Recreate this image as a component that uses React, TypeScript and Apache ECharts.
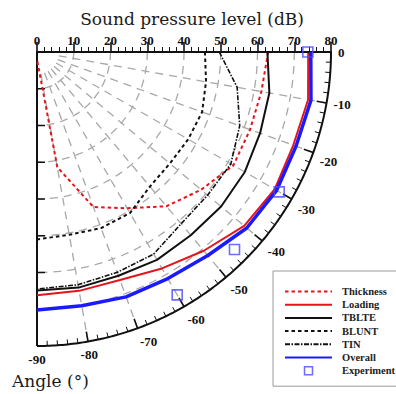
import React, { useEffect, useRef } from 'react';
import * as echarts from 'echarts';

// Angle (degrees) of each computed point
const angles = [0, -10, -20, -30, -40, -50, -60, -70, -80, -90];
// Sound pressure level (dB) of each noise source
const thickness = [62.9, 62.0, 61.7, 61.7, 58.3, 54.8, 49.1, 44.9, 31.8, 2];
const loading = [73.8, 74.9, 74.2, 74.7, 73.6, 70.6, 68.0, 66.0, 66.0, 66.2];
const tblte = [62.7, 64.2, 64.6, 65.3, 65.4, 65.1, 65.3, 64.8, 65.1, 64.9];
const blunt = [45.7, 46.7, 47.8, 47.5, 47.2, 47.8, 50.6, 51.0, 50.5, 51.0];
const tin = [49.6, 55.3, 58.7, 60.9, 60.6, 61.0, 63.5, 63.8, 64.3, 64.5];
const overall = [74.5, 75.7, 75.0, 75.3, 74.5, 72.3, 71.2, 70.9, 70.1, 70.2];
// Experiment
const experimentAngles = [0, -30, -45, -60];
const experiment = [73.7, 76.1, 76.0, 76.3];

// Axis ticks
const radiusMax = 80;
const gridRadii = [10, 20, 30, 40, 50, 60, 70];
const gridAngles = [-10, -20, -30, -40, -50, -60, -70, -80];
const angleMin = -90;

const lineNames = ['Thickness', 'Loading', 'TBLTE', 'BLUNT', 'TIN', 'Overall'];

const LABEL_FONT = 'Liberation Serif';

export default function App() {
  const ref = useRef<HTMLDivElement>(null);
  useEffect(() => {
    const chart = echarts.init(ref.current!, null, { renderer: 'svg' });
    const toData = (angs: number[], vals: number[]) => angs.map((a, i) => [vals[i], -a]);

    const line = (name: string, vals: number[], color: string, width: number, type: any, z: number) => ({
      type: 'line',
      name,
      coordinateSystem: 'polar',
      data: toData(angles, vals),
      symbol: 'none',
      lineStyle: { color, width, type },
      itemStyle: { color },
      z,
      silent: true,
    });

    const renderFurniture = (params: any, api: any) => {
      const children: any[] = [];
      const c0 = api.coord([0, 0]);
      const gray = { stroke: '#a8a8a8', lineWidth: 1.3, lineDash: [8, 6], fill: null };
      const black = { stroke: '#111', lineWidth: 2, fill: null };
      const span = -angleMin;
      gridRadii.forEach((r) => {
        const pts: number[][] = [];
        for (let a = 0; a <= span; a += 1) pts.push(api.coord([r, a]));
        children.push({ type: 'polyline', shape: { points: pts }, style: gray });
      });
      gridAngles.forEach((ang) => {
        const a = -ang;
        const p1 = api.coord([6, a]);
        const p2 = api.coord([radiusMax, a]);
        children.push({ type: 'line', shape: { x1: p1[0], y1: p1[1], x2: p2[0], y2: p2[1] }, style: gray });
      });
      // outer arc
      const arc: number[][] = [];
      for (let a = 0; a <= span; a += 0.5) arc.push(api.coord([radiusMax, a]));
      children.push({ type: 'polyline', shape: { points: arc }, style: black });
      // -90 axis line
      const l1 = api.coord([0, span]);
      const l2 = api.coord([radiusMax, span]);
      children.push({ type: 'line', shape: { x1: l1[0], y1: l1[1], x2: l2[0], y2: l2[1] }, style: black });
      // arc ticks
      for (let a = 0; a <= span; a += 2) {
        const p = api.coord([radiusMax, a]);
        const dx = p[0] - c0[0];
        const dy = p[1] - c0[1];
        const d = Math.sqrt(dx * dx + dy * dy);
        const len = a % 10 === 0 ? 10 : 5;
        children.push({
          type: 'line',
          shape: { x1: p[0], y1: p[1], x2: p[0] - (dx / d) * len, y2: p[1] - (dy / d) * len },
          style: { stroke: '#111', lineWidth: a % 10 === 0 ? 1.6 : 1, fill: null },
        });
      }
      // -90 axis ticks
      gridRadii.forEach((r) => {
        const p = api.coord([r, span]);
        children.push({
          type: 'line',
          shape: { x1: p[0], y1: p[1], x2: p[0] + 8, y2: p[1] },
          style: { stroke: '#111', lineWidth: 1.5, fill: null },
        });
      });
      return { type: 'group', children };
    };

    const legendData: any[] = lineNames.map((n) => ({
      name: n,
      itemStyle: { color: 'rgba(0,0,0,0)', borderColor: 'rgba(0,0,0,0)', borderWidth: 0, opacity: 0 },
    }));
    legendData.push({
      name: 'Experiment',
      icon: 'path://M0,0H10V10H0Z',
      itemStyle: { color: 'rgba(255,255,255,0)', borderColor: '#4747ff', borderWidth: 1.5 },
    });

    const option: any = {
      animation: false,
      backgroundColor: '#fff',
      polar: { center: [37, 52], radius: 294 },
      radiusAxis: {
        type: 'value',
        min: 0,
        max: radiusMax,
        interval: 10,
        axisLine: { show: true, lineStyle: { color: '#111', width: 2 } },
        axisTick: { show: true, inside: true, length: 10, lineStyle: { color: '#111', width: 1.6 } },
        minorTick: { show: true, splitNumber: 5, length: 5, lineStyle: { color: '#111', width: 1 } },
        splitLine: { show: false },
        minorSplitLine: { show: false },
        axisLabel: {
          margin: 5,
          fontFamily: LABEL_FONT,
          fontWeight: 'bold',
          fontSize: 13,
          color: '#111',
        },
        z: 5,
      },
      angleAxis: {
        type: 'value',
        min: 0,
        max: 360,
        interval: 10,
        startAngle: 0,
        clockwise: true,
        axisLine: { show: false },
        axisTick: { show: false },
        splitLine: { show: false },
        axisLabel: {
          margin: 7,
          fontFamily: LABEL_FONT,
          fontWeight: 'bold',
          fontSize: 13,
          color: '#111',
          formatter: (v: number) => (v <= -angleMin ? (v === 0 ? '0' : String(-v)) : ''),
        },
      },
      legend: {
        orient: 'vertical',
        left: 273,
        top: 271,
        itemWidth: 47,
        itemHeight: 8,
        itemGap: 2.2,
        padding: [15, 2, 10, 11],
        borderColor: '#9a9a9a',
        borderWidth: 1,
        backgroundColor: '#fff',
        selectedMode: false,
        textStyle: {
          fontFamily: LABEL_FONT,
          fontWeight: 'bold',
          fontSize: 10.5,
          color: '#222',
          padding: [0, 0, 0, 5],
        },
        data: legendData,
      },
      graphic: [
        {
          type: 'text',
          x: 192,
          y: 19,
          style: {
            text: 'Sound pressure level (dB)',
            fontFamily: 'DejaVu Serif',
            fontSize: 17,
            fill: '#1a1a1a',
            align: 'center',
            verticalAlign: 'middle',
          },
        },
        {
          type: 'text',
          x: 12,
          y: 381,
          style: {
            text: 'Angle (°)',
            fontFamily: 'DejaVu Serif',
            fontSize: 17,
            fill: '#1a1a1a',
            align: 'left',
            verticalAlign: 'middle',
          },
        },
      ],
      series: [
        {
          type: 'custom',
          name: 'furniture',
          coordinateSystem: 'polar',
          data: [[40, 45]],
          renderItem: renderFurniture,
          silent: true,
          z: 1,
        },
        line('Thickness', thickness, '#e4141c', 2, [3.5, 3], 4),
        line('Loading', loading, '#e4141c', 2, 'solid', 4),
        line('TBLTE', tblte, '#111111', 2, 'solid', 4),
        line('BLUNT', blunt, '#111111', 2, [3.5, 3], 4),
        line('TIN', tin, '#111111', 1.6, [5, 1.5, 1.5, 1.5], 4),
        line('Overall', overall, '#1a1aff', 3.5, 'solid', 5),
        {
          type: 'scatter',
          name: 'Experiment',
          coordinateSystem: 'polar',
          data: toData(experimentAngles, experiment),
          symbol: 'rect',
          symbolSize: 10,
          itemStyle: { color: 'rgba(255,255,255,0)', borderColor: '#4747ff', borderWidth: 1.6 },
          z: 6,
          silent: true,
        },
      ],
    };
    chart.setOption(option);
    return () => chart.dispose();
  }, []);
  return <div ref={ref} style={{ position: 'absolute', left: 0, top: 0, width: 396, height: 394 }} />;
}
